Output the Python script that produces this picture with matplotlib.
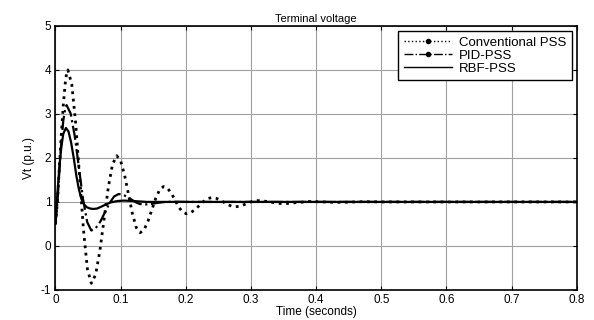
import matplotlib
matplotlib.use("Agg")
import matplotlib.pyplot as plt
from matplotlib.lines import Line2D

plt.rcParams['font.family'] = ['Liberation Sans', 'DejaVu Sans']
plt.rcParams['axes.unicode_minus'] = False

# Conventional PSS
conv_t = [0, 0.003, 0.006, 0.009, 0.012, 0.015, 0.017, 0.019,
          0.025, 0.031, 0.037, 0.043, 0.049, 0.055,
          0.0615, 0.068, 0.0745, 0.081, 0.0875, 0.094,
          0.100, 0.106, 0.112, 0.118, 0.124, 0.130,
          0.136, 0.142, 0.148, 0.154, 0.160, 0.166,
          0.172, 0.178, 0.1835, 0.189, 0.195, 0.201,
          0.2075, 0.214, 0.2205, 0.227, 0.2335, 0.240,
          0.246, 0.252, 0.258, 0.264, 0.270, 0.276,
          0.2817, 0.2873, 0.293, 0.2987, 0.3043, 0.310,
          0.320, 0.330, 0.340, 0.350, 0.360, 0.370, 0.390, 0.410, 0.430, 0.450,
          0.470, 0.500, 0.800]
conv_v = [0.5, 1.0, 1.8, 2.55, 3.2, 3.7, 3.92, 4.0,
          3.675, 2.79, 1.575, 0.36, -0.525, -0.85,
          -0.656, -0.125, 0.6, 1.325, 1.856, 2.05,
          1.933, 1.613, 1.175, 0.738, 0.417, 0.3,
          0.37, 0.5625, 0.825, 1.0875, 1.28, 1.35,
          1.308, 1.195, 1.04, 0.885, 0.772, 0.73,
          0.755, 0.8225, 0.915, 1.0075, 1.075, 1.1,
          1.086, 1.0475, 0.995, 0.9425, 0.904, 0.89,
          0.899, 0.925, 0.96, 0.995, 1.021, 1.03,
          1.02, 0.995, 0.97, 0.96, 0.97, 0.985, 1.01, 1.0, 0.99, 0.995,
          1.005, 1.0, 1.0]

# PID-PSS
pid_t = [0, 0.003, 0.006, 0.009, 0.012, 0.015, 0.017,
         0.0233, 0.0297, 0.036, 0.0423, 0.0487, 0.055,
         0.062, 0.069, 0.076, 0.083, 0.090, 0.097,
         0.1033, 0.1097, 0.116, 0.1223, 0.1287, 0.135,
         0.145, 0.155, 0.165, 0.180, 0.200, 0.800]
pid_v = [0.5, 1.0, 1.7, 2.35, 2.85, 3.12, 3.2,
         3.009, 2.4875, 1.775, 1.0625, 0.541, 0.35,
         0.409, 0.5575, 0.765, 0.9725, 1.124, 1.18,
         1.164, 1.12, 1.06, 1.0, 0.956, 0.94,
         0.95, 0.975, 0.995, 1.005, 1.0, 1.0]

# RBF-PSS
rbf_t = [0, 0.003, 0.006, 0.009, 0.012, 0.016, 0.020, 0.024, 0.028, 0.032, 0.036,
         0.040, 0.044, 0.048, 0.053, 0.058, 0.064, 0.070, 0.077, 0.085, 0.095,
         0.105, 0.120, 0.140, 0.800]
rbf_v = [0.5, 1.2, 1.8, 2.25, 2.55, 2.68, 2.6, 2.35, 2.0, 1.6, 1.28,
         1.06, 0.94, 0.88, 0.85, 0.84, 0.85, 0.89, 0.94, 0.99, 1.02,
         1.03, 1.02, 1.0, 1.0]

labels = ["Conventional PSS", "PID-PSS", "RBF-PSS"]
x_ticks = [0, 0.1, 0.2, 0.3, 0.4, 0.5, 0.6, 0.7, 0.8]
x_tick_labels = ['0', '0.1', '0.2', '0.3', '0.4', '0.5', '0.6', '0.7', '0.8']
y_ticks = [-1, 0, 1, 2, 3, 4, 5]

fig = plt.figure(figsize=(5.94, 3.2), dpi=100)
ax = fig.add_axes([0.0934, 0.094, 0.8776, 0.825])

ax.plot(conv_t, conv_v, color='black', linestyle=':', linewidth=2.0)
ax.plot(pid_t, pid_v, color='black', linestyle='-.', linewidth=1.6)
ax.plot(rbf_t, rbf_v, color='black', linestyle='-', linewidth=1.6)

ax.set_xlim(0, 0.8)
ax.set_ylim(-1, 5)
ax.set_xticks(x_ticks)
ax.set_xticklabels(x_tick_labels)
ax.set_yticks(y_ticks)
ax.tick_params(direction='in', top=True, right=True, length=3, labelsize=8.5, pad=3)
ax.grid(True, color='#a0a0a0', linestyle='-', linewidth=0.8)
ax.set_axisbelow(True)
for s in ax.spines.values():
    s.set_linewidth(1.2)

ax.set_title("Terminal voltage", fontsize=8, pad=3)
ax.set_xlabel("Time (seconds)", fontsize=8.5, labelpad=0)
ax.set_ylabel("Vt (p.u.)", fontsize=8.5, labelpad=4)

# legend handles with a dot in the middle like the original
handles = [
    Line2D([], [], color='black', linestyle=':', linewidth=1.0, marker='.', markersize=6),
    Line2D([], [], color='black', linestyle='-.', linewidth=1.0, marker='.', markersize=6),
    Line2D([], [], color='black', linestyle='-', linewidth=1.0),
]
leg = ax.legend(handles, labels, loc='upper right', numpoints=1,
                fontsize=9.5, frameon=True, fancybox=False, edgecolor='black',
                framealpha=1, borderpad=0.45, labelspacing=0.05, handlelength=3.6,
                handletextpad=0.55, borderaxespad=0.35)
leg.get_frame().set_linewidth(1.0)

fig.savefig("out.png", dpi=100)
